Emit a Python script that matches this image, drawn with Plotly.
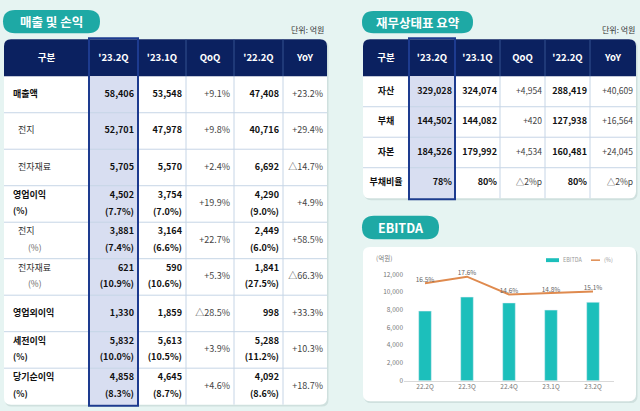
import plotly.graph_objects as go

W, H = 640, 411
FONT = "Noto Sans CJK KR"

# ---------------- data ----------------
PL_COLUMNS = ["구분", "'23.2Q", "'23.1Q", "QoQ", "'22.2Q", "YoY"]
PL_ITEMS = ["매출액", "전지", "전자재료", "영업이익", "전지", "전자재료", "영업외이익", "세전이익", "당기순이익"]
PL_Q23_2 = ["58,406", "52,701", "5,705", "4,502", "3,881", "621", "1,330", "5,832", "4,858"]
PL_Q23_2_PCT = [None, None, None, "(7.7%)", "(7.4%)", "(10.9%)", None, "(10.0%)", "(8.3%)"]
PL_Q23_1 = ["53,548", "47,978", "5,570", "3,754", "3,164", "590", "1,859", "5,613", "4,645"]
PL_Q23_1_PCT = [None, None, None, "(7.0%)", "(6.6%)", "(10.6%)", None, "(10.5%)", "(8.7%)"]
PL_QOQ = ["+9.1%", "+9.8%", "+2.4%", "+19.9%", "+22.7%", "+5.3%", "△28.5%", "+3.9%", "+4.6%"]
PL_Q22_2 = ["47,408", "40,716", "6,692", "4,290", "2,449", "1,841", "998", "5,288", "4,092"]
PL_Q22_2_PCT = [None, None, None, "(9.0%)", "(6.0%)", "(27.5%)", None, "(11.2%)", "(8.6%)"]
PL_YOY = ["+23.2%", "+29.4%", "△14.7%", "+4.9%", "+58.5%", "△66.3%", "+33.3%", "+10.3%", "+18.7%"]

BS_COLUMNS = ["구분", "'23.2Q", "'23.1Q", "QoQ", "'22.2Q", "YoY"]
BS_ITEMS = ["자산", "부채", "자본", "부채비율"]
BS_Q23_2 = ["329,028", "144,502", "184,526", "78%"]
BS_Q23_1 = ["324,074", "144,082", "179,992", "80%"]
BS_QOQ = ["+4,954", "+420", "+4,534", "△2%p"]
BS_Q22_2 = ["288,419", "127,938", "160,481", "80%"]
BS_YOY = ["+40,609", "+16,564", "+24,045", "△2%p"]

EB_QUARTERS = ["22.2Q", "22.3Q", "22.4Q", "23.1Q", "23.2Q"]
EB_VALUES = [7850, 9430, 8770, 7960, 8840]
EB_MARGIN = [16.5, 17.6, 14.6, 14.8, 15.1]
EB_TICKS = [0, 2000, 4000, 6000, 8000, 10000, 12000]
EB_SERIES = ["EBITDA", "(%)"]

# ---------------- style / geometry ----------------
PL_LEVEL = [0, 1, 1, 0, 1, 1, 0, 0, 0]          # 0 = bold main item, 1 = indented sub item
L_X0, L_COLW = 4, [85, 49, 48, 48, 49, 44]
L_Y0, L_HEAD_H, L_ROW_H = 34, 38, 37.4
R_X0, R_COLW = 363, [46, 46, 45, 45, 45, 46]
R_Y0, R_HEAD_H, R_ROW_H = 34, 38, 31.25

NAVY = "#0b2160"
TEAL = "#1ea9a5"
HL_FILL = "#d8def1"
HL_LINE = "#1d3b8f"
GRID = "#c6d5e6"
BG = "#e6f4f2"
BAR = "#1cbfbb"
LINE = "#df8a4e"

shapes = []
annotations = []


def rrect(x0, y0, x1, y1, r, top_only=False):
    rb = 0 if top_only else r
    return (f"M{x0+r},{y0} L{x1-r},{y0} Q{x1},{y0} {x1},{y0+r} "
            f"L{x1},{y1-rb} Q{x1},{y1} {x1-rb},{y1} L{x0+rb},{y1} Q{x0},{y1} {x0},{y1-rb} "
            f"L{x0},{y0+r} Q{x0},{y0} {x0+r},{y0} Z")


def add_path(path, fill, line=None, width=0, layer="below"):
    shapes.append(dict(type="path", xref="x", yref="y", path=path, fillcolor=fill,
                       line=dict(color=line or "rgba(0,0,0,0)", width=width), layer=layer))


def card(x0, y0, x1, y1):
    add_path(rrect(x0 + 1, y0 + 1.5, x1 + 1.5, y1 + 2, 7), "#cfe0de")
    add_path(rrect(x0, y0, x1, y1, 7), "#ffffff")


def pill(x0, y0, x1, y1, label, size):
    add_path(rrect(x0, y0, x1, y1, (y1 - y0) / 2), TEAL)
    annotations.append(dict(xref="x", yref="y", x=(x0 + x1) / 2, y=(y0 + y1) / 2, text=f"<b>{label}</b>",
                            showarrow=False, font=dict(family=FONT, size=size, color="white")))


def edges(x0, widths):
    out = [x0]
    for w in widths:
        out.append(out[-1] + w)
    return out


tx, ty, tt, tp, tc, ts = [], [], [], [], [], []


def put(x, y, text, pos, color, size):
    tx.append(x); ty.append(y); tt.append(text); tp.append(pos); tc.append(color); ts.append(size)


grid_x, grid_y = [], []
head_x, head_y = [], []


def seg(xs, ys, a, b):
    xs += [a[0], b[0], None]
    ys += [a[1], b[1], None]


def table_frame(x0, colw, y0, head_h, row_h, n_rows, columns, hl_col):
    ex = edges(x0, colw)
    body_top = y0 + head_h
    bottom = body_top + row_h * n_rows
    card(ex[0], y0, ex[-1], bottom)
    add_path(rrect(ex[0], y0, ex[-1], body_top, 7, top_only=True), NAVY)
    add_path(f"M{ex[hl_col]},{body_top} L{ex[hl_col+1]},{body_top} L{ex[hl_col+1]},{bottom} "
             f"L{ex[hl_col]},{bottom} Z", HL_FILL)
    for k in range(1, len(ex) - 1):
        seg(grid_x, grid_y, (ex[k], body_top), (ex[k], bottom))
        seg(head_x, head_y, (ex[k], y0), (ex[k], body_top))
    for r in range(1, n_rows):
        yy = body_top + r * row_h
        seg(grid_x, grid_y, (ex[0], yy), (ex[-1], yy))
    # highlighted column outline
    add_path(f"M{ex[hl_col]},{y0-1} L{ex[hl_col+1]},{y0-1} L{ex[hl_col+1]},{bottom+1} "
             f"L{ex[hl_col]},{bottom+1} Z", "rgba(0,0,0,0)", HL_LINE, 2, layer="above")
    for c, name in enumerate(columns):
        put((ex[c] + ex[c + 1]) / 2, y0 + head_h / 2 + 0.5, f"<b>{name}</b>", "middle center", "white", 9.5)
    return ex, body_top


# background pills / unit labels
pill(3, 4, 100, 28, "매출 및 손익", 12.5)
pill(362, 5, 473, 28, "재무상태표 요약", 12.5)
pill(362, 215, 439, 239, "EBITDA", 12.5)
for xr in (326, 637):
    annotations.append(dict(xref="x", yref="y", x=xr, y=24, text="단위: 억원", showarrow=False,
                            xanchor="right", font=dict(family=FONT, size=8, color="#333")))

# ---------------- left table ----------------
ex, body_top = table_frame(L_X0, L_COLW, L_Y0, L_HEAD_H, L_ROW_H, len(PL_ITEMS), PL_COLUMNS, 1)
value_cols = [(PL_Q23_2, PL_Q23_2_PCT, True), (PL_Q23_1, PL_Q23_1_PCT, True), (PL_QOQ, None, False),
              (PL_Q22_2, PL_Q22_2_PCT, True), (PL_YOY, None, False)]
DY = 8.5
for i, item in enumerate(PL_ITEMS):
    cy = body_top + (i + 0.5) * L_ROW_H
    two = PL_Q23_2_PCT[i] is not None
    lvl = PL_LEVEL[i]
    lx = ex[0] + (9 if lvl == 0 else 14)
    lab = f"<b>{item}</b>" if lvl == 0 else item
    lcol = "#111" if lvl == 0 else "#333"
    if two:
        put(lx, cy - DY, lab, "middle right", lcol, 9)
        put(ex[0] + (9 if lvl == 0 else 24), cy + DY, "<b>(%)</b>" if lvl == 0 else "(%)", "middle right",
            "#111" if lvl == 0 else "#666", 8.5)
    else:
        put(lx, cy, lab, "middle right", lcol, 9)
    for c, (main, pct, bold) in enumerate(value_cols):
        xr = ex[c + 2] - 4
        if pct is not None and pct[i] is not None:
            put(xr, cy - DY, f"<b>{main[i]}</b>", "middle left", "#111", 9)
            put(xr, cy + DY, f"<b>{pct[i]}</b>", "middle left", "#111", 9)
        else:
            txt = f"<b>{main[i]}</b>" if bold else main[i]
            put(xr, cy, txt, "middle left", "#111" if bold else "#444", 9)

# ---------------- right table ----------------
ex, body_top = table_frame(R_X0, R_COLW, R_Y0, R_HEAD_H, R_ROW_H, len(BS_ITEMS), BS_COLUMNS, 1)
bs_cols = [(BS_Q23_2, True), (BS_Q23_1, True), (BS_QOQ, False), (BS_Q22_2, True), (BS_YOY, False)]
for i, item in enumerate(BS_ITEMS):
    cy = body_top + (i + 0.5) * R_ROW_H
    put((ex[0] + ex[1]) / 2, cy, f"<b>{item}</b>", "middle center", "#111", 9)
    for c, (vals, bold) in enumerate(bs_cols):
        xr = ex[c + 2] - 3
        txt = f"<b>{vals[i]}</b>" if bold else vals[i]
        put(xr, cy, txt, "middle left", "#111" if bold else "#444", 9 if bold else 8.5)

# ---------------- EBITDA card ----------------
card(363, 247, 636, 405)
annotations.append(dict(xref="x", yref="y", x=384, y=258, text="(억원)", showarrow=False,
                        font=dict(family=FONT, size=6.5, color="#777")))
# compact legend (key swatches + labels)
add_path("M546,258.5 L559,258.5 L559,262.5 L546,262.5 Z", BAR, layer="above")
shapes.append(dict(type="line", xref="x", yref="y", x0=591, x1=600, y0=260.5, y1=260.5,
                   line=dict(color=LINE, width=1.5), layer="above"))
annotations.append(dict(xref="x", yref="y", x=561, y=260.5, text=EB_SERIES[0], showarrow=False,
                        xanchor="left", font=dict(family=FONT, size=5.5, color="#999")))
annotations.append(dict(xref="x", yref="y", x=601.5, y=260.5, text=EB_SERIES[1], showarrow=False,
                        xanchor="left", font=dict(family=FONT, size=5.5, color="#999")))

fig = go.Figure()
fig.add_trace(go.Scatter(x=grid_x, y=grid_y, mode="lines", line=dict(color=GRID, width=1),
                         hoverinfo="skip", showlegend=False, xaxis="x", yaxis="y"))
fig.add_trace(go.Scatter(x=head_x, y=head_y, mode="lines", line=dict(color="#34528f", width=1),
                         hoverinfo="skip", showlegend=False, xaxis="x", yaxis="y"))
fig.add_trace(go.Scatter(x=tx, y=ty, text=tt, mode="text", textposition=tp,
                         textfont=dict(family=FONT, color=tc, size=ts),
                         hoverinfo="skip", showlegend=False, xaxis="x", yaxis="y"))

fig.add_trace(go.Bar(x=EB_QUARTERS, y=EB_VALUES, name=EB_SERIES[0], marker_color=BAR, width=0.3,
                     xaxis="x2", yaxis="y2", showlegend=False))
fig.add_trace(go.Scatter(x=EB_QUARTERS, y=EB_MARGIN, name=EB_SERIES[1], mode="lines+text",
                         text=[f"{v}%" for v in EB_MARGIN], textposition="top center",
                         textfont=dict(family=FONT, size=6.5, color="#666"),
                         line=dict(color=LINE, width=2), cliponaxis=False,
                         xaxis="x2", yaxis="y3", showlegend=False))

fig.update_layout(
    width=W, height=H, margin=dict(l=0, r=0, t=0, b=0),
    paper_bgcolor=BG, plot_bgcolor="rgba(0,0,0,0)",
    font=dict(family=FONT),
    shapes=shapes, annotations=annotations, showlegend=False,
    xaxis=dict(range=[0, W], domain=[0, 1], visible=False, fixedrange=True, anchor="y"),
    yaxis=dict(range=[H, 0], domain=[0, 1], visible=False, fixedrange=True, anchor="x"),
    xaxis2=dict(domain=[404 / W, 614 / W], anchor="y2", showline=True, linecolor="#d9d9d9",
                showgrid=False, ticks="", tickfont=dict(size=6.5, color="#777"), fixedrange=True),
    yaxis2=dict(domain=[1 - 384 / H, 1 - 275 / H], anchor="x2", range=[0, 12000], tickvals=EB_TICKS,
                tickformat=",", showgrid=False, zeroline=False, showline=False,
                tickfont=dict(size=6.5, color="#777"), fixedrange=True),
    yaxis3=dict(overlaying="y2", range=[0, 18], visible=False, fixedrange=True),
    bargap=0.7,
)

fig.write_html("out.html", config={"displayModeBar": False},
               post_script="document.body.style.margin='0';document.body.style.overflow='hidden';")
